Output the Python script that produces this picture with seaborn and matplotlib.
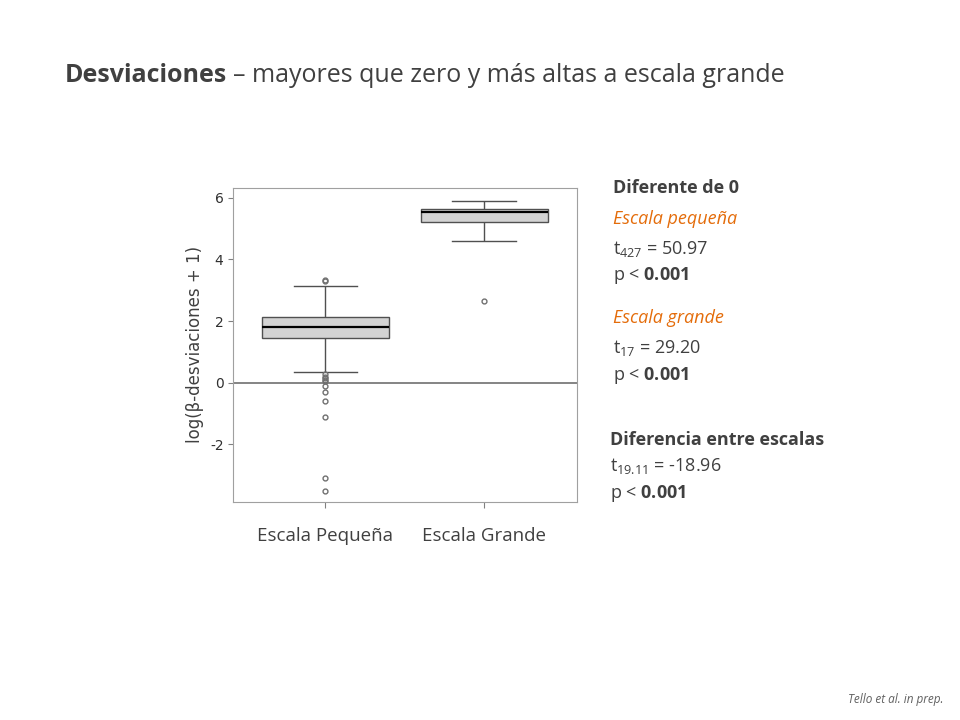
import matplotlib
matplotlib.use("Agg")
import matplotlib.pyplot as plt
import seaborn as sns
import pandas as pd

plt.rcParams["font.family"] = "Open Sans"
plt.rcParams["mathtext.fontset"] = "custom"
plt.rcParams["mathtext.rm"] = "Open Sans"
plt.rcParams["mathtext.bf"] = "Open Sans:bold"
plt.rcParams["mathtext.it"] = "Open Sans:italic"

categories = ["Escala Pequeña", "Escala Grande"]
# hand-read sample values reproducing the boxes, whiskers and outliers
small_low_outliers = [0.3, 0.2, 0.15, 0.1, 0.05, -0.1, -0.3, -0.6, -1.1, -3.1, -3.5]
small_core = [0.35] + [1.45] * 40 + [1.8] * 40 + [2.15] * 40 + [3.15]
small_high_outliers = [3.3, 3.35]
large_values = [2.65, 4.6] + [5.2] * 5 + [5.55] * 5 + [5.65] * 5 + [5.9]
yticks = [-2, 0, 2, 4, 6]

small = small_low_outliers + small_core + small_high_outliers
df = pd.DataFrame({
    "grupo": [categories[0]] * len(small) + [categories[1]] * len(large_values),
    "valor": small + large_values,
})

fig = plt.figure(figsize=(9.6, 7.2), dpi=100)
ax = fig.add_axes([0.243, 0.303, 0.358, 0.436])
ax.axhline(0, color="#707070", lw=1.2, zorder=0)
sns.boxplot(data=df, x="grupo", y="valor", order=categories, ax=ax, whis=1.6,
            color="#D3D3D3", width=0.8, linewidth=1.0, linecolor="#505050",
            medianprops=dict(color="black", linewidth=1.6),
            flierprops=dict(marker="o", markersize=3.5, markerfacecolor="none",
                            markeredgecolor="#707070"))
ax.set_ylim(-3.86, 6.32)
ax.set_xlim(-0.58, 1.585)
ax.set_yticks(yticks)
ax.set_yticklabels([str(v) for v in yticks], fontsize=10, family="DejaVu Sans")
ax.tick_params(axis="x", labelsize=13.5, colors="#808080", length=4, pad=14)
for l in ax.get_xticklabels():
    l.set_color("#404040")
ax.tick_params(axis="y", colors="#808080", labelcolor="#303030")
for s in ax.spines.values():
    s.set_color("#A0A0A0")
ax.set_xlabel("")
ax.set_ylabel("log(β-desviaciones + 1)", fontsize=12, color="#404040", labelpad=4, family="DejaVu Sans")

def px(x, y):
    return x / 960, 1 - y / 720

dark = "#404040"
orange = "#E46C0A"
t1 = fig.text(*px(65, 75), "Desviaciones", fontsize=18, weight="bold", color=dark, va="center")
fig.canvas.draw()
bb = t1.get_window_extent()
fig.text(bb.x1 / 960 + 0.006, 1 - 75 / 720, "– mayores que zero y más altas a escala grande",
         fontsize=18, color=dark, va="center")

items = [
    (613, 188, "Diferente de 0", dark, "bold", "normal"),
    (613, 219, "Escala pequeña", orange, "normal", "italic"),
    (613, 249, "t$_{427}$ = 50.97", dark, "normal", "normal"),
    (613, 276, r"p < $\mathbf{0.001}$", dark, "normal", "normal"),
    (613, 318, "Escala grande", orange, "normal", "italic"),
    (613, 348, "t$_{17}$ = 29.20", dark, "normal", "normal"),
    (613, 375, r"p < $\mathbf{0.001}$", dark, "normal", "normal"),
    (610, 440, "Diferencia entre escalas", dark, "bold", "normal"),
    (610, 466, "t$_{19.11}$ = -18.96", dark, "normal", "normal"),
    (610, 493, r"p < $\mathbf{0.001}$", dark, "normal", "normal"),
]
for x, y, s, c, w, st in items:
    fig.text(*px(x, y), s, fontsize=13, color=c, weight=w, style=st, va="center")

fig.text(*px(943, 700), "Tello et al. in prep.", fontsize=8.5, style="italic",
         color="#606060", ha="right", va="center")
fig.savefig("out.png", dpi=100)
